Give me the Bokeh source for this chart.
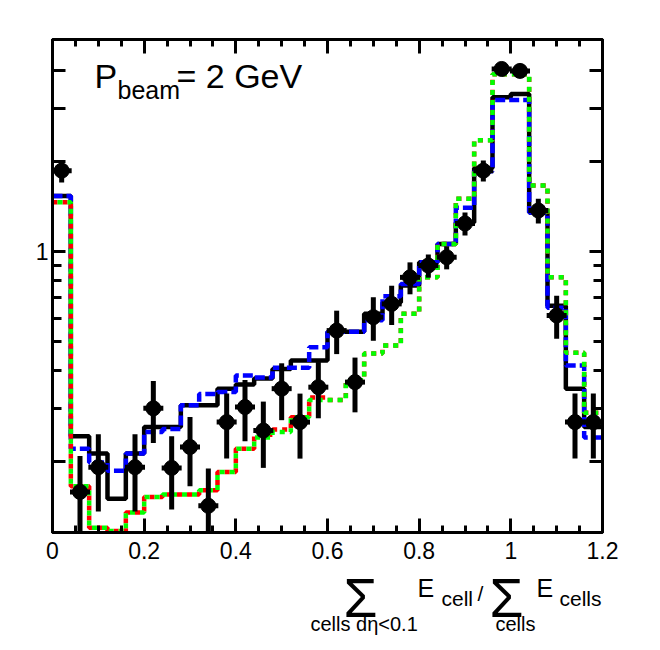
import math
from bokeh.plotting import figure
from bokeh.layouts import column
from bokeh.models import Range1d, FixedTicker, LinearAxis, LogAxis, Label
from bokeh.embed import file_html
from bokeh.resources import INLINE

# ---------------- data ----------------
edges = [0.0, 0.04, 0.08, 0.12, 0.16, 0.20, 0.24, 0.28, 0.32, 0.36, 0.40,
         0.44, 0.48, 0.52, 0.56, 0.60, 0.64, 0.68, 0.72, 0.76, 0.80,
         0.84, 0.88, 0.92, 0.96, 1.00, 1.04, 1.08, 1.12, 1.16, 1.20]

mc_black = [1.53, 0.242, 0.212, 0.150, 0.212, 0.26, 0.26, 0.307, 0.307, 0.349,
            0.36, 0.377, 0.406, 0.433, 0.433, 0.54, 0.54, 0.62, 0.676, 0.77,
            0.92, 1.06, 1.25, 1.90, 3.27, 3.35, 1.35, 0.66, 0.349, 0.26]
mc_blue = [1.53, 0.22, 0.198, 0.186, 0.212, 0.25, 0.256, 0.307, 0.335, 0.34,
           0.386, 0.38, 0.41, 0.41, 0.48, 0.54, 0.54, 0.59, 0.71, 0.78,
           0.92, 1.06, 1.40, 1.85, 3.2, 3.2, 1.35, 0.65, 0.417, 0.24]
mc_red = [1.46, 0.165, 0.12, 0.117, 0.135, 0.152, 0.155, 0.155, 0.16, 0.184,
          0.22, 0.245, 0.255, 0.28, 0.326, 0.32, 0.372, 0.457, 0.486, 0.62,
          0.82, 1.06, 1.5, 2.35, 3.9, 3.9, 1.66, 0.82, 0.46, 0.29]
mc_green = [1.46, 0.165, 0.12, 0.117, 0.135, 0.152, 0.155, 0.155, 0.16, 0.184,
            0.22, 0.24, 0.25, 0.28, 0.32, 0.32, 0.372, 0.457, 0.486, 0.62,
            0.82, 1.06, 1.5, 2.35, 3.9, 3.9, 1.66, 0.82, 0.46, 0.29]

data_x = [0.02, 0.06, 0.10, 0.18, 0.22, 0.26, 0.30, 0.34, 0.38, 0.42, 0.46,
          0.50, 0.54, 0.58, 0.62, 0.66, 0.70, 0.74, 0.78, 0.82, 0.86, 0.90,
          0.94, 0.98, 1.02, 1.06, 1.10, 1.14, 1.18]
data_y = [1.86, 0.158, 0.191, 0.191, 0.30, 0.19, 0.223, 0.142, 0.27, 0.303, 0.253,
          0.349, 0.27, 0.353, 0.545, 0.367, 0.604, 0.669, 0.82, 0.898, 0.957, 1.24,
          1.86, 4.06, 4.0, 1.37, 0.612, 0.27, 0.27]
data_err = [0.16, 0.05, 0.055, 0.055, 0.07, 0.052, 0.058, 0.047, 0.066, 0.07, 0.063,
            0.075, 0.066, 0.075, 0.09, 0.076, 0.10, 0.10, 0.10, 0.08, 0.085, 0.11,
            0.15, 0.2, 0.2, 0.13, 0.10, 0.066, 0.066]

x_ticks = [0.0, 0.2, 0.4, 0.6, 0.8, 1.0, 1.2]
x_tick_labels = ["0", "0.2", "0.4", "0.6", "0.8", "1", "1.2"]
y_major = [0.2, 1.0, 2.0, 3.0, 4.0]
y_minor = [0.3, 0.4, 0.5, 0.6, 0.7, 0.8, 0.9]
y_tick_labels = {0.2: "", 1.0: "1", 2.0: "", 3.0: "", 4.0: ""}

# ---------------- geometry ----------------
ML, MR, MT, MB = 52, 50, 39, 36
FRAME_W, FRAME_H = 550, 493
W = ML + FRAME_W + MR
H = MT + FRAME_H + MB
X0, X1 = 0.0, 1.2
Y0, Y1 = 0.1157, 5.09
FONT = "Liberation Sans"


def sx(px):  # canvas px -> data x
    return X0 + (px - ML) / FRAME_W * (X1 - X0)


def sy(py):  # canvas px -> data y (log)
    l0, l1 = math.log10(Y0), math.log10(Y1)
    frac = (MT + FRAME_H - py) / FRAME_H
    return 10 ** (l0 + frac * (l1 - l0))


p = figure(width=W, height=H, y_axis_type="log",
           x_range=Range1d(X0, X1), y_range=Range1d(Y0, Y1),
           output_backend="svg", toolbar_location=None,
           min_border_left=ML, min_border_right=MR,
           min_border_top=MT, min_border_bottom=MB)
p.background_fill_color = "white"
p.border_fill_color = "white"
p.xgrid.visible = False
p.ygrid.visible = False
p.outline_line_color = "black"
p.outline_line_width = 3

xticker = FixedTicker(ticks=x_ticks,
                      minor_ticks=[round(0.05 * i, 2) for i in range(25)])
yticker = FixedTicker(ticks=y_major, minor_ticks=y_minor)

bottom_ax = p.below[0]
left_ax = p.left[0]
top_ax = LinearAxis(ticker=xticker)
right_ax = LogAxis(ticker=yticker)
p.add_layout(top_ax, "above")
p.add_layout(right_ax, "right")
bottom_ax.ticker = xticker
left_ax.ticker = yticker

for ax in [bottom_ax, top_ax, left_ax, right_ax]:
    ax.axis_line_color = "black"
    ax.axis_line_width = 3
    ax.major_tick_line_width = 3
    ax.minor_tick_line_width = 3
    ax.major_tick_out = 0
    ax.minor_tick_out = 0
    ax.major_tick_in = 14
    ax.minor_tick_in = 7
    ax.major_label_text_font = FONT
    ax.major_label_text_color = "black"
    ax.major_label_text_font_size = "23px"

bottom_ax.major_label_overrides = dict(zip(x_ticks, x_tick_labels))
bottom_ax.major_label_standoff = 9
left_ax.major_label_overrides = y_tick_labels
left_ax.major_label_standoff = 4
for ax in [left_ax, right_ax]:
    ax.major_tick_in = 13
    ax.minor_tick_in = 9
for ax in [top_ax, right_ax]:
    ax.major_label_overrides = {t: "" for t in ax.ticker.ticks}
    ax.major_label_standoff = 0

# ---------------- histograms ----------------
def close(v):
    return list(v) + [v[-1]]

LW = 4.5
p.step(edges, close(mc_black), mode="after", line_color="black", line_width=LW)
p.step(edges, close(mc_blue), mode="after", line_color="#0000ff", line_width=LW,
       line_dash="10 4")
p.step(edges, close(mc_red), mode="after", line_color="#ff0000", line_width=LW,
       line_dash="5 5")
p.step(edges, close(mc_green), mode="after", line_color="#00ff00", line_width=LW,
       line_dash="5 5", line_dash_offset=5)

# ---------------- data points ----------------
lo = [y - e for y, e in zip(data_y, data_err)]
hi = [y + e for y, e in zip(data_y, data_err)]
p.segment(data_x, lo, data_x, hi, line_color="black", line_width=5)
p.scatter(data_x, data_y, marker="dash", size=20, line_color="black", line_width=5)
p.scatter(data_x, data_y, marker="circle", size=15, fill_color="black",
          line_color="black")

# ---------------- beam label ----------------
def lab(fig, xx, yy, text, size):
    fig.add_layout(Label(x=xx, y=yy, text=text, text_font=FONT,
                         text_font_size=f"{size}px", text_color="black",
                         text_align="left", text_baseline="alphabetic"))

lab(p, sx(94), sy(75), "P", 34)
lab(p, sx(117), sy(89), "beam", 25)
lab(p, sx(176), sy(75), "= 2 GeV", 34)

# ---------------- x-axis title (separate strip below the plot) ----------------
# the strip's frame is aligned with the main frame by the column layout,
# so its x range is expressed in page pixels of that frame
HB = 80
q = figure(width=W, height=HB, x_range=Range1d(ML, ML + FRAME_W),
           y_range=Range1d(HB, 0),
           output_backend="svg", toolbar_location=None,
           x_axis_location=None, y_axis_location=None,
           min_border_left=ML, min_border_right=MR,
           min_border_top=0, min_border_bottom=0)
q.xgrid.visible = False
q.ygrid.visible = False
q.outline_line_color = None
q.background_fill_color = "white"
q.border_fill_color = "white"

def qlab(px, py, text, size):
    lab(q, px, py - H, text, size)

qlab(343, 597, "\u03a3", 55)
qlab(310, 623, "cells d\u03b7<0.1", 20)
qlab(417, 587, "E", 25)
qlab(441, 598, "cell", 21)
qlab(477, 593, "/", 21)
qlab(489, 597, "\u03a3", 55)
qlab(495, 623, "cells", 20)
qlab(536, 587, "E", 25)
qlab(559, 598, "cells", 21)

layout = column(p, q, spacing=0)
open("out.html", "w").write(file_html(layout, INLINE))
